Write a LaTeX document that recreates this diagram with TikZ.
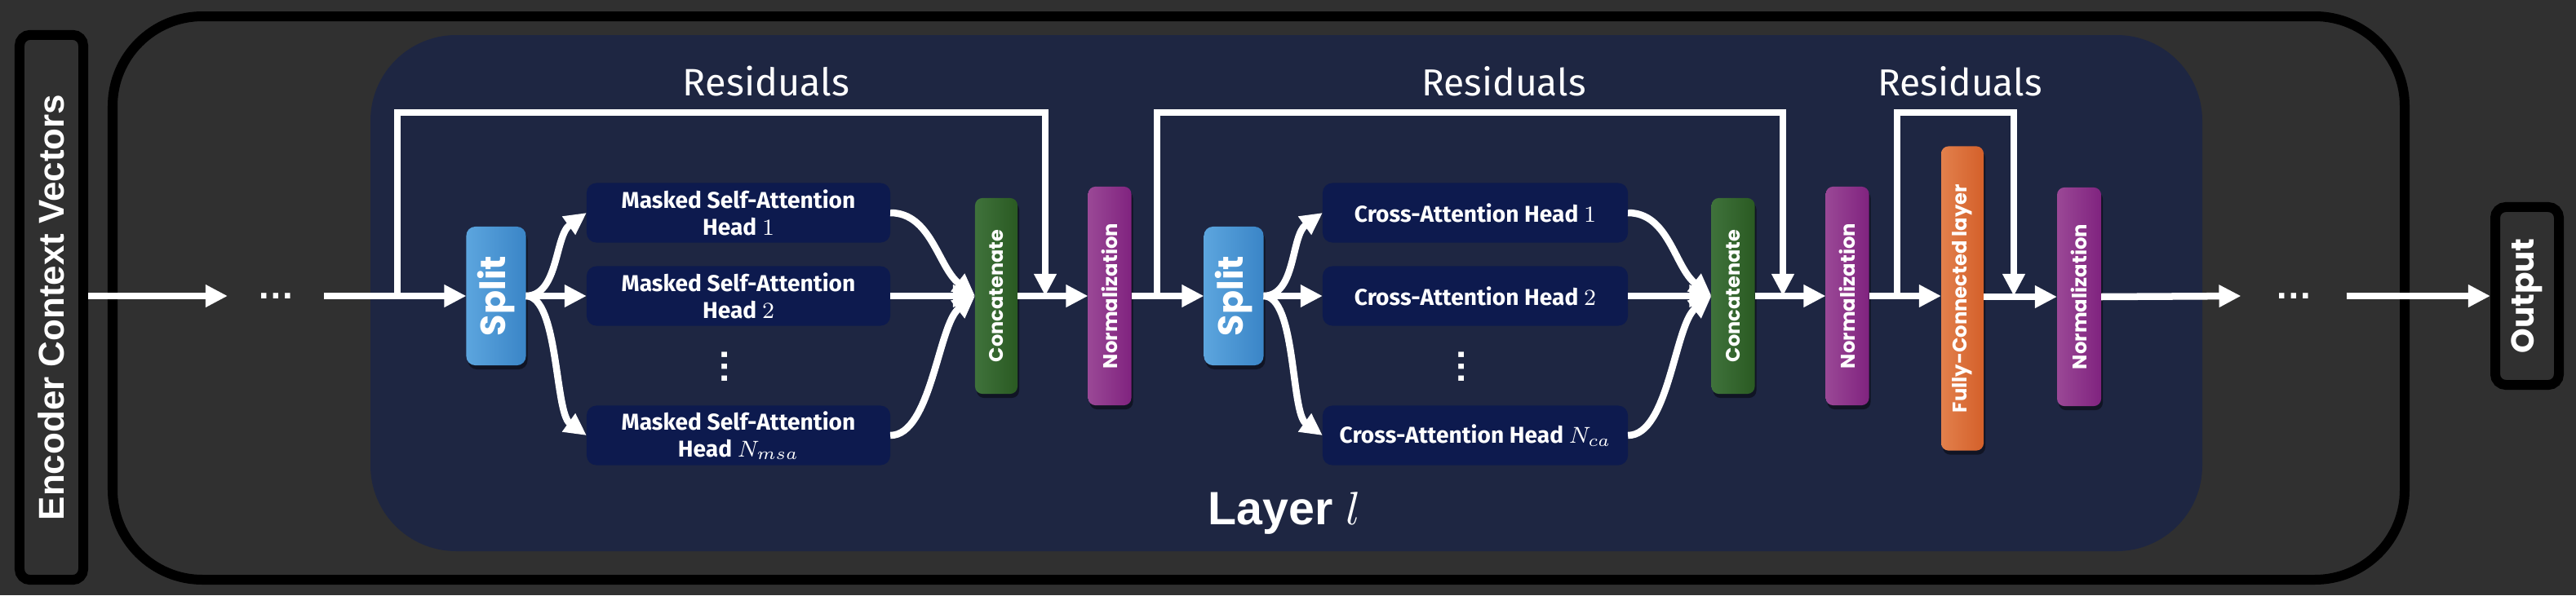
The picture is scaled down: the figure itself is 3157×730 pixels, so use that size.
\documentclass[tikz,border=0pt]{standalone}
\usepackage{fontspec}
\usepackage{graphicx}
\setmainfont{Liberation Sans}
\newfontfamily\popfont{Poppins}
\newfontfamily\condfont{Fira Sans}
\usetikzlibrary{arrows.meta,shadows,calc}
\definecolor{bgc}{HTML}{303030}
\definecolor{layerc}{HTML}{1E2642}
\definecolor{headc}{HTML}{0D1A4E}
\definecolor{splitL}{HTML}{5CA5DE}
\definecolor{splitR}{HTML}{3A85C7}
\definecolor{catL}{HTML}{3F723B}
\definecolor{catR}{HTML}{2A5A22}
\definecolor{normL}{HTML}{9A4896}
\definecolor{normR}{HTML}{80237F}
\definecolor{fcL}{HTML}{E2804C}
\definecolor{fcR}{HTML}{D4602A}
\newcommand{\vlab}[2]{\rotatebox{90}{\resizebox{#1}{!}{\popfont\bfseries #2}}}
\tikzset{
  arr/.style={draw=white, line width=0.085cm, line join=miter, -{Triangle[length=0.27cm,width=0.26cm]}},
  shad/.style={drop shadow={shadow xshift=0.02cm, shadow yshift=-0.05cm, opacity=0.45, fill=black}},
  vbox/.style={shad, rounded corners=0.09cm, inner sep=0pt, outer sep=0pt, text=white},
  splitbox/.style={vbox, rounded corners=0.11cm, left color=splitL, right color=splitR, minimum width=0.73cm, minimum height=1.70cm},
  catbox/.style={vbox, left color=catL, right color=catR, minimum width=0.52cm, minimum height=2.40cm},
  normbox/.style={vbox, left color=normL, right color=normR, minimum width=0.53cm, minimum height=2.68cm},
  fcbox/.style={vbox, left color=fcL, right color=fcR, minimum width=0.52cm, minimum height=3.73cm},
  headbox/.style={fill=headc, rounded corners=0.12cm, minimum width=3.72cm, minimum height=0.73cm, inner sep=0pt, outer sep=0pt, text=white, align=center, font=\condfont\bfseries\fontsize{8}{9.4}\selectfont},
  termbox/.style={draw=black, line width=0.12cm, fill=bgc, rounded corners=0.13cm, inner sep=0pt, text=white},
  dotsn/.style={inner sep=0pt, outer sep=0pt, text=white, font=\bfseries\fontsize{13}{13}\selectfont},
  reslabel/.style={text=white, inner sep=0pt, font=\condfont}
}
\begin{document}
\begin{tikzpicture}[x=0.01cm,y=-0.01cm]
\useasboundingbox (0,0) rectangle (3157,730);
\fill[bgc] (0,0) rectangle (3157,730);
% outer decoder frame
\draw[black, line width=0.12cm, rounded corners=1.1cm] (138,20) rectangle (2947,711);
% layer background
\fill[layerc, rounded corners=1.05cm] (454,43) rectangle (2699,676);

% terminal boxes
\node[termbox, minimum width=0.78cm, minimum height=6.68cm] (enc) at (63,377)
  {\rotatebox{90}{\resizebox{5.22cm}{!}{\bfseries Encoder Context Vectors}}};
\node[termbox, minimum width=0.78cm, minimum height=2.18cm] (out) at (3097,363)
  {\vlab{1.41cm}{Output}};

% dots
\node[dotsn, minimum width=1.18cm] (dotsL) at (338,363) {…};
\node[dotsn, minimum width=1.29cm] (dotsR) at (2811,363) {…};

% first block
\node[splitbox] (s1) at (608,363) {\vlab{0.98cm}{Split}};
\node[headbox] (h1) at (905,261) {Masked Self-Attention\\Head $1$};
\node[headbox] (h2) at (905,363) {Masked Self-Attention\\Head $2$};
\node[headbox] (hN) at (905,534) {Masked Self-Attention\\Head $N_{msa}$};
\node[dotsn, rotate=90] (vd1) at (888,450) {…};
\node[catbox] (c1) at (1221,363) {\vlab{1.62cm}{Concatenate}};
\node[normbox] (n1) at (1360,363) {\vlab{1.78cm}{Normalization}};

% second block
\node[splitbox] (s2) at (1512,363) {\vlab{0.98cm}{Split}};
\node[headbox, minimum width=3.74cm] (x1) at (1808,261) {Cross-Attention Head $1$};
\node[headbox, minimum width=3.74cm] (x2) at (1808,363) {Cross-Attention Head $2$};
\node[headbox, minimum width=3.74cm] (xN) at (1808,534) {Cross-Attention Head $N_{ca}$};
\node[dotsn, rotate=90] (vd2) at (1791,450) {…};
\node[catbox, minimum width=0.53cm] (c2) at (2124,363) {\vlab{1.62cm}{Concatenate}};
\node[normbox] (n2) at (2264,363) {\vlab{1.78cm}{Normalization}};

% feed-forward
\node[fcbox] (fc) at (2405,366) {\vlab{2.80cm}{Fully-Connected layer}};
\node[normbox, minimum width=0.54cm] (n3) at (2548,364) {\vlab{1.78cm}{Normalization}};

% labels
\node[reslabel] (res1) at (939,100) {\resizebox{2.04cm}{!}{Residuals}};
\node[reslabel] (res2) at (1843,100) {\resizebox{2.01cm}{!}{Residuals}};
\node[reslabel] (res3) at (2402,100) {\resizebox{2.01cm}{!}{Residuals}};
\node[text=white, inner sep=0pt] (layer) at (1574,630) {\resizebox{1.87cm}{!}{\bfseries Layer $l$}};

% residual coordinates
\coordinate (r1s) at (487,363); \coordinate (r1m) at (884,138); \coordinate (r1e) at (1281,363);
\coordinate (r2s) at (1418,363); \coordinate (r2m) at (1801,138); \coordinate (r2e) at (2185,363);
\coordinate (r3s) at (2325,363); \coordinate (r3m) at (2396,138); \coordinate (r3e) at (2468,363);

% main line
\draw[arr] (enc.east |- dotsL.west) -- (dotsL.west);
\draw[arr] (dotsL.east) -- (s1.west);
\draw[arr] (s1.east) -- (h2.west);
\draw[arr] (s1.east) .. controls +(40,0) and +(-39,28) .. (h1.west);
\draw[arr] (s1.east) .. controls +(40,0) and +(-39,-28) .. (hN.west);
\draw[arr] (h2.east) -- (c1.west);
\draw[arr] (h1.east) .. controls +(50,0) and +(-45,-35) .. (c1.west);
\draw[arr] (hN.east) .. controls +(50,0) and +(-45,35) .. (c1.west);
\draw[arr] (c1.east) -- (n1.west);
\draw[arr] (n1.east) -- (s2.west);
\draw[arr] (s2.east) -- (x2.west);
\draw[arr] (s2.east) .. controls +(40,0) and +(-39,28) .. (x1.west);
\draw[arr] (s2.east) .. controls +(40,0) and +(-39,-28) .. (xN.west);
\draw[arr] (x2.east) -- (c2.west);
\draw[arr] (x1.east) .. controls +(50,0) and +(-45,-35) .. (c2.west);
\draw[arr] (xN.east) .. controls +(50,0) and +(-45,35) .. (c2.west);
\draw[arr] (c2.east) -- (n2.west);
\draw[arr] (n2.east) -- (fc.west |- n2.east);
\draw[arr] (fc.east |- n3.west) -- (n3.west);
\draw[arr] (n3.east) -- (dotsR.west);
\draw[arr] (dotsR.east) -- (out.west);

% residuals
\draw[arr] (r1s) |- (r1m) -| (r1e);
\draw[arr] (r2s) |- (r2m) -| (r2e);
\draw[arr] (r3s) |- (r3m) -| (r3e);
\end{tikzpicture}
\end{document}
